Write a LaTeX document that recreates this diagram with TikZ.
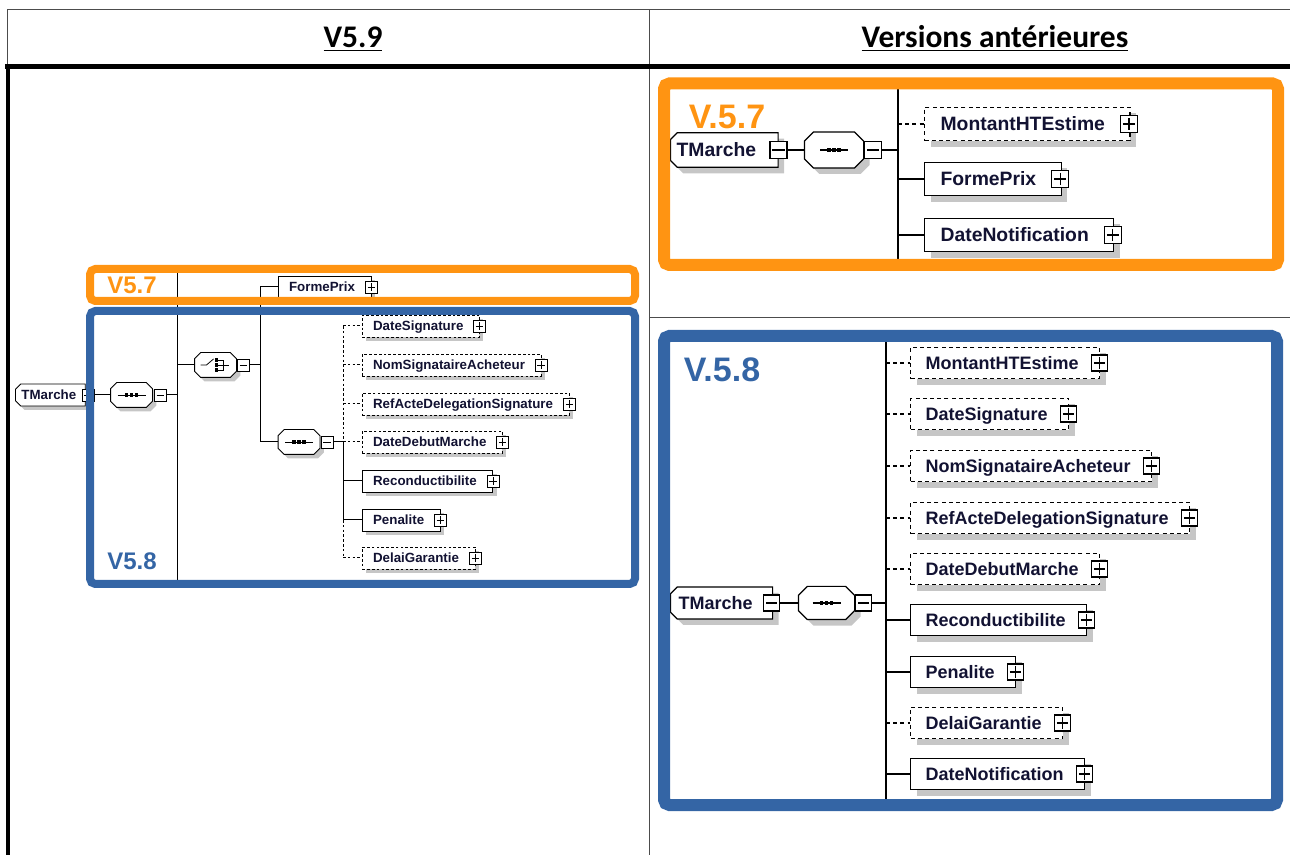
\documentclass[tikz,border=0pt]{standalone}
\usepackage{fontspec}
\usepackage{tikz}
\usetikzlibrary{positioning, shapes.misc, shadows, calc, backgrounds}

\newfontfamily\headfont{Carlito}
\newfontfamily\spyfont{Liberation Sans}

\definecolor{vorange}{RGB}{255,148,18}
\definecolor{vblue}{RGB}{52,101,165}
\definecolor{spytext}{RGB}{18,18,50}
\definecolor{spyshade}{RGB}{198,198,198}

\begin{document}
\begin{tikzpicture}[
    x=0.75pt, y=-0.75pt,
    grid/.style={draw=black!70, line width=0.75pt},
    heavy/.style={draw=black, line width=3.4pt},
    head/.style={font=\headfont\bfseries\fontsize{23.6}{28}\selectfont, anchor=base},
    vlabel/.style 2 args={text=#1, font=\spyfont\bfseries\fontsize{#2}{#2}\selectfont},
    vframe/.style={draw=#1, rounded corners=4pt},
    lsz/.style={line width=0.6pt, font=\spyfont\bfseries\fontsize{10}{12}\selectfont},
    osz/.style={line width=0.9pt, font=\spyfont\bfseries\fontsize{14.5}{17}\selectfont},
    bsz/.style={line width=0.9pt, font=\spyfont\bfseries\fontsize{13.5}{16}\selectfont},
    lshade/.style={general shadow={fill=spyshade, shadow xshift=3pt, shadow yshift=-3pt}},
    rshade/.style={general shadow={fill=spyshade, shadow xshift=4.5pt, shadow yshift=-4.5pt}},
    elt/.style={rectangle, draw, fill=white, text=spytext, anchor=west, inner ysep=0pt, text depth=0pt},
    typ/.style={chamfered rectangle, chamfered rectangle corners={north west, south west}, draw, fill=white, text=spytext, anchor=west, inner ysep=0pt, text depth=0pt},
    compo/.style={rectangle, inner sep=0pt},
    lopt/.style={dash pattern=on 2pt off 1.6pt},
    ropt/.style={dash pattern=on 3pt off 2.4pt},
    lelt/.style={elt, lsz, lshade, minimum height=16.5pt, text height=7.2pt, inner xsep=8pt, execute at end node={\hspace{4pt}}},
    oelt/.style={elt, osz, rshade, minimum height=25pt, text height=10.4pt, inner xsep=12pt, execute at end node={\hspace{6.75pt}}},
    belt/.style={elt, bsz, rshade, minimum height=23.5pt, text height=9.7pt, inner xsep=11.25pt, execute at end node={\hspace{4.5pt}}},
    ltyp/.style={typ, lsz, lshade, minimum height=16.5pt, text height=7.2pt, inner xsep=2.5pt, chamfered rectangle xsep=2pt, chamfered rectangle ysep=2pt, execute at end node={\hspace{2.25pt}}},
    otyp/.style={typ, osz, rshade, minimum height=26pt, text height=10.4pt, inner xsep=2pt, chamfered rectangle xsep=2.5pt, chamfered rectangle ysep=2.5pt, execute at end node={\hspace{12pt}}},
    btyp/.style={typ, bsz, rshade, minimum height=24pt, text height=9.7pt, inner xsep=3.5pt, chamfered rectangle xsep=2.5pt, chamfered rectangle ysep=2.5pt, execute at end node={\hspace{9pt}}},
    lcompo/.style={compo, lsz, minimum width=30.75pt, minimum height=18pt},
    ocompo/.style={compo, osz, minimum width=43.5pt, minimum height=26pt},
    bcompo/.style={compo, bsz, minimum width=41.25pt, minimum height=24pt},
    pm/.style={rectangle, draw, fill=white, inner sep=0pt, minimum size=#1},
    plusb/.style={pm=#1, path picture={
        \draw ([xshift=1.8pt]path picture bounding box.west) -- ([xshift=-1.8pt]path picture bounding box.east);
        \draw ([yshift=-1.8pt]path picture bounding box.north) -- ([yshift=1.8pt]path picture bounding box.south);}},
    minusb/.style={pm=#1, path picture={
        \draw ([xshift=1.8pt]path picture bounding box.west) -- ([xshift=-1.8pt]path picture bounding box.east);}},
    seqsym/.style={path picture={
        \begin{scope}[shift={(path picture bounding box.center)}, scale=#1]
          \draw (-14,0) -- (14,0);
          \foreach \d in {-5,0,5} \fill[black] (\d-1.8,-1.8) rectangle (\d+1.8,1.8);
        \end{scope}}},
    chsym/.style={path picture={
        \begin{scope}[shift={(path picture bounding box.center)}]
          \draw (-15,0) -- (-9,0) -- (-2,-6);
          \foreach \d in {-5,0,5} \fill[black] (-1,\d-1.8) rectangle (2.4,\d+1.8);
          \draw (2.4,-5) -- (8,-5) -- (8,5) -- (2.4,5) (2.4,0) -- (13,0);
        \end{scope}}}
]
\useasboundingbox (0,0) rectangle (1290,855);

% Table
\draw[grid] (7,10) -- (1290,10);
\draw[grid] (7,10) -- (7,66);
\draw[grid] (649,10) -- (649,855);
\draw[grid] (649,318) -- (1290,318);
\draw[heavy] (5,66.5) -- (1290,66.5);
\draw[heavy] (8,66) -- (8,855);
\node[head] (hNew) at (353,48) {\underline{V5.9}};
\node[head] (hOld) at (995,48) {\underline{Versions antérieures}};

% V5.9
\node[ltyp] (lTM) at (15,395) {TMarche};
\node[minusb=9pt, lsz, right=-3pt of lTM] (lTMm) {};
\node[lcompo, seqsym=1] (lSeq) at (131.5,395) {};
\node[minusb=9pt, lsz, right=1pt of lSeq] (lSeqm) {};
\node[lcompo, chsym] (lCh) at (215.5,365) {};
\node[minusb=9pt, lsz, right=0.5pt of lCh] (lChm) {};
\node[lelt] (lFP) at (278,287) {FormePrix};
\node[plusb=9pt, lsz, right=-5pt of lFP] (lFPp) {};
\node[lcompo, seqsym=1] (lSeqB) at (299,442) {};
\node[minusb=9pt, lsz, right=0.5pt of lSeqB] (lSeqBm) {};
\node[lelt, lopt] (lDS) at (362,326) {DateSignature};
\node[plusb=9pt, lsz, right=-5pt of lDS] (lDSp) {};
\node[lelt, lopt] (lNSA) at (362,365) {NomSignataireAcheteur};
\node[plusb=9pt, lsz, right=-5pt of lNSA] (lNSAp) {};
\node[lelt, lopt] (lRADS) at (362,404) {RefActeDelegationSignature};
\node[plusb=9pt, lsz, right=-5pt of lRADS] (lRADSp) {};
\node[lelt, lopt] (lDDM) at (362,442) {DateDebutMarche};
\node[plusb=9pt, lsz, right=-5pt of lDDM] (lDDMp) {};
\node[lelt] (lRec) at (362,481) {Reconductibilite};
\node[plusb=9pt, lsz, right=-5pt of lRec] (lRecp) {};
\node[lelt] (lPen) at (362,520) {Penalite};
\node[plusb=9pt, lsz, right=-5pt of lPen] (lPenp) {};
\node[lelt, lopt] (lDG) at (362,558) {DelaiGarantie};
\node[plusb=9pt, lsz, right=-5pt of lDG] (lDGp) {};

\begin{scope}[line width=0.75pt]
\coordinate (lbusA) at (177,395);
\coordinate (lbusAtop) at (177,273);
\coordinate (lbusAbot) at (177,580);
\coordinate (lbusB) at (260,365);
\coordinate (lbusC) at (343,442);
\draw (lbusAtop) -- (lbusAbot);
\draw (lTMm) -- (lSeq);
\draw (lSeqm) -- (lbusA);
\draw (lbusA |- lCh) -- (lCh);
\draw (lChm) -- (lbusB);
\draw (lbusB |- lFP) -- (lFP);
\draw (lbusB |- lFP) -- (lbusB |- lSeqB) -- (lSeqB);
\draw (lSeqBm) -- (lbusC);
\draw[lopt] (lbusC |- lDS) -- (lbusC);
\draw (lbusC) -- (lbusC |- lPen);
\draw[lopt] (lbusC |- lPen) -- (lbusC |- lDG);
\draw[lopt] (lbusC |- lDS) -- (lDS);
\draw[lopt] (lbusC |- lNSA) -- (lNSA);
\draw[lopt] (lbusC |- lRADS) -- (lRADS);
\draw[lopt] (lbusC) -- (lDDM);
\draw (lbusC |- lRec) -- (lRec);
\draw (lbusC |- lPen) -- (lPen);
\draw[lopt] (lbusC |- lDG) -- (lDG);
\end{scope}

\draw[vframe=vorange, line width=6pt] (90,269) rectangle (635,301);
\draw[vframe=vblue, line width=6pt] (90,311) rectangle (635,584);
\node[vlabel={vorange}{18}] (lV57) at (132,285) {V5.7};
\node[vlabel={vblue}{18}] (lV58) at (132,561) {V5.8};

% V.5.7
\node[otyp] (oTM) at (670,150) {TMarche};
\node[minusb=12.75pt, osz, right=-7pt of oTM] (oTMm) {};
\node[ocompo, seqsym=1.6] (oSeq) at (834,150) {};
\node[minusb=12.75pt, osz, right=0.5pt of oSeq] (oSeqm) {};
\node[oelt, ropt] (oMHT) at (924,124) {MontantHTEstime};
\node[plusb=12.75pt, osz, right=-8pt of oMHT] (oMHTp) {};
\node[oelt] (oFP) at (924,179) {FormePrix};
\node[plusb=12.75pt, osz, right=-8pt of oFP] (oFPp) {};
\node[oelt] (oDN) at (924,235) {DateNotification};
\node[plusb=12.75pt, osz, right=-8pt of oDN] (oDNp) {};

\begin{scope}[line width=1.1pt]
\coordinate (obus) at (898,150);
\coordinate (obusTop) at (898,86);
\coordinate (obusBot) at (898,262);
\draw (obusTop) -- (obusBot);
\draw (oTMm) -- (oSeq);
\draw (oSeqm) -- (obus);
\draw[ropt] (obus |- oMHT) -- (oMHT);
\draw (obus |- oFP) -- (oFP);
\draw (obus |- oDN) -- (oDN);
\end{scope}

% V.5.8
\node[btyp] (bTM) at (670,603) {TMarche};
\node[minusb=12pt, bsz, right=-7.5pt of bTM] (bTMm) {};
\node[bcompo, seqsym=1.55] (bSeq) at (826.5,603) {};
\node[minusb=12pt, bsz, right=0.5pt of bSeq] (bSeqm) {};
\node[belt, ropt] (bMHT) at (910,363) {MontantHTEstime};
\node[plusb=12pt, bsz, right=-7pt of bMHT] (bMHTp) {};
\node[belt, ropt] (bDS) at (910,414) {DateSignature};
\node[plusb=12pt, bsz, right=-7pt of bDS] (bDSp) {};
\node[belt, ropt] (bNSA) at (910,466) {NomSignataireAcheteur};
\node[plusb=12pt, bsz, right=-7pt of bNSA] (bNSAp) {};
\node[belt, ropt] (bRADS) at (910,518) {RefActeDelegationSignature};
\node[plusb=12pt, bsz, right=-7pt of bRADS] (bRADSp) {};
\node[belt, ropt] (bDDM) at (910,569) {DateDebutMarche};
\node[plusb=12pt, bsz, right=-7pt of bDDM] (bDDMp) {};
\node[belt] (bRec) at (910,620) {Reconductibilite};
\node[plusb=12pt, bsz, right=-7pt of bRec] (bRecp) {};
\node[belt] (bPen) at (910,672) {Penalite};
\node[plusb=12pt, bsz, right=-7pt of bPen] (bPenp) {};
\node[belt, ropt] (bDG) at (910,723) {DelaiGarantie};
\node[plusb=12pt, bsz, right=-7pt of bDG] (bDGp) {};
\node[belt] (bDN) at (910,774) {DateNotification};
\node[plusb=12pt, bsz, right=-7pt of bDN] (bDNp) {};

\begin{scope}[line width=1.1pt]
\coordinate (bbus) at (886,603);
\coordinate (bbusTop) at (886,338);
\coordinate (bbusBot) at (886,802);
\draw (bbusTop) -- (bbusBot);
\draw (bTMm) -- (bSeq);
\draw (bSeqm) -- (bbus);
\draw[ropt] (bbus |- bMHT) -- (bMHT);
\draw[ropt] (bbus |- bDS) -- (bDS);
\draw[ropt] (bbus |- bNSA) -- (bNSA);
\draw[ropt] (bbus |- bRADS) -- (bRADS);
\draw[ropt] (bbus |- bDDM) -- (bDDM);
\draw (bbus |- bRec) -- (bRec);
\draw (bbus |- bPen) -- (bPen);
\draw[ropt] (bbus |- bDG) -- (bDG);
\draw (bbus |- bDN) -- (bDN);
\end{scope}

% compositor octagons
\begin{scope}[on background layer]
\foreach \n/\c/\w/\s in {lSeq/6/0.6/3, lCh/6/0.6/3, lSeqB/6/0.6/3, oSeq/9/0.9/4.5, bSeq/9/0.9/4.5}
  \draw[fill=white, line width=\w pt, general shadow={fill=spyshade, shadow xshift=\s pt, shadow yshift=-\s pt}]
    ($(\n.north west)+(\c,0)$) -- ($(\n.north east)+(-\c,0)$) -- ($(\n.north east)+(0,\c)$)
    -- ($(\n.south east)+(0,-\c)$) -- ($(\n.south east)+(-\c,0)$) -- ($(\n.south west)+(\c,0)$)
    -- ($(\n.south west)+(0,-\c)$) -- ($(\n.north west)+(0,\c)$) -- cycle;
\end{scope}

\draw[vframe=vorange, line width=9pt] (664,83.5) rectangle (1278,265);
\draw[vframe=vblue, line width=9pt] (664,336) rectangle (1277,805);
\node[vlabel={vorange}{25.5}] (oV57) at (727,117) {V.5.7};
\node[vlabel={vblue}{25.5}] (bV58) at (722,370) {V.5.8};

\end{tikzpicture}
\end{document}
